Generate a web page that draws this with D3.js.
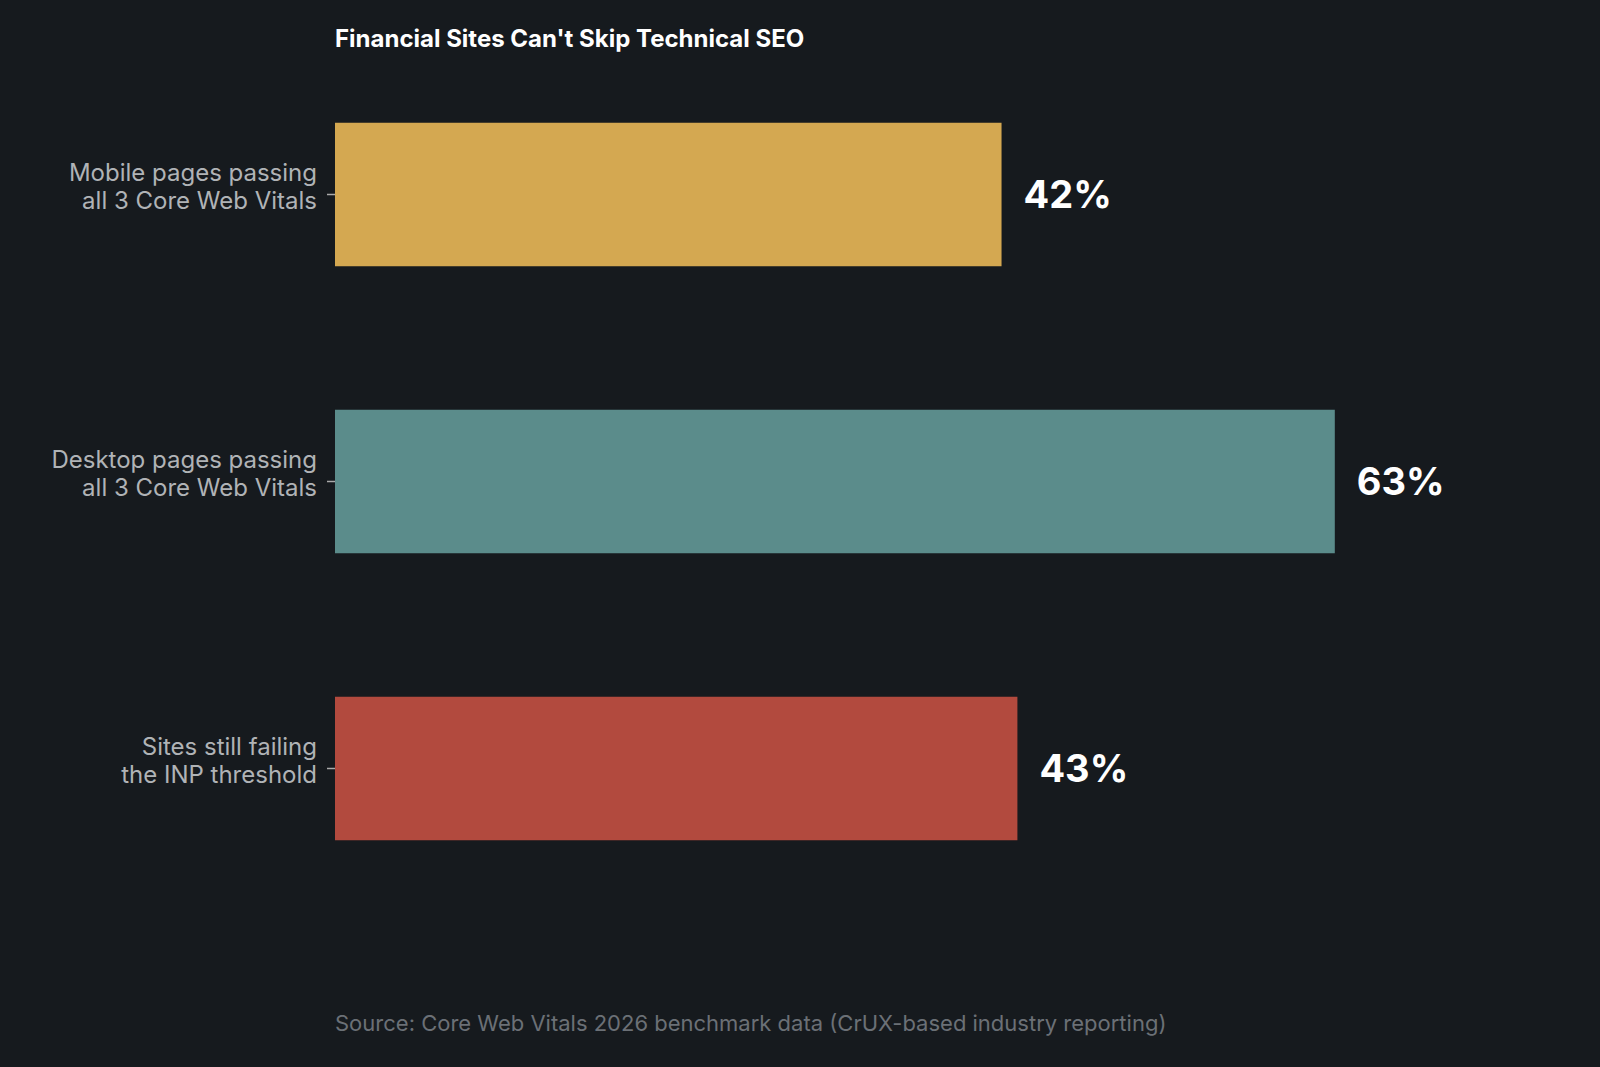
<!DOCTYPE html>
<html>
<head>
<meta charset="utf-8">
<script src="https://cdn.jsdelivr.net/npm/d3@7"></script>
<style>
  body { margin: 0; background: #161a1e; }
  svg { display: block; }
</style>
</head>
<body>
<svg id="chart" width="1600" height="1067"></svg>
<script>
const categories = [
    ['Mobile pages passing', 'all 3 Core Web Vitals'],
    ['Desktop pages passing', 'all 3 Core Web Vitals'],
    ['Sites still failing', 'the INP threshold']
];
const values = [42, 63, 43];
const colors = ['#d4a851', '#5b8c8b', '#b24a3e'];
const valueLabels = ['42%', '63%', '43%'];

const svg = d3.select('#chart');
const font = 'Inter, "Open Sans", sans-serif';
const left = 335;

const x = d3.scaleLinear().domain([0, 100]).range([left, left + 1587]);
const y = d3.scaleBand().domain(d3.range(values.length)).range([51, 912]).paddingInner(0.5).paddingOuter(0.25);

svg.append('rect').attr('width', 1600).attr('height', 1067).attr('fill', '#161a1e');

// Title
svg.append('text')
    .attr('x', left).attr('y', 47)
    .attr('font-family', font).attr('font-weight', 700).attr('font-size', 24)
    .attr('fill', '#fff')
    .text("Financial Sites Can't Skip Technical SEO");

// Bars
svg.append('g').selectAll('rect')
    .data(values)
    .enter().append('rect')
    .attr('x', x(0))
    .attr('y', (d, i) => y(i))
    .attr('width', d => x(d) - x(0))
    .attr('height', y.bandwidth())
    .attr('fill', (d, i) => colors[i]);

// Value labels
svg.append('g').selectAll('text')
    .data(values)
    .enter().append('text')
    .attr('x', d => x(d) + 22)
    .attr('y', (d, i) => y(i) + y.bandwidth() / 2)
    .attr('dy', '.35em')
    .attr('font-family', font).attr('font-weight', 700).attr('font-size', 38)
    .attr('fill', '#fff')
    .text((d, i) => valueLabels[i]);

// Category axis
const axis = svg.append('g');
categories.forEach((lines, i) => {
    const cy = y(i) + y.bandwidth() / 2;
    axis.append('line')
        .attr('x1', left - 8).attr('x2', left)
        .attr('y1', cy).attr('y2', cy)
        .attr('stroke', '#aaa').attr('stroke-width', 1.5);
    const t = axis.append('text')
        .attr('x', left - 18).attr('y', cy - 14)
        .attr('text-anchor', 'end')
        .attr('font-family', font).attr('font-size', 24)
        .attr('fill', '#b0b3b6');
    lines.forEach((line, j) => {
        t.append('tspan').attr('x', left - 18).attr('dy', j === 0 ? 0 : 28).text(line);
    });
});

// Source
svg.append('text')
    .attr('x', left).attr('y', 1031)
    .attr('font-family', font).attr('font-size', 22)
    .attr('fill', '#6b7076')
    .text('Source: Core Web Vitals 2026 benchmark data (CrUX-based industry reporting)');
</script>
</body>
</html>
